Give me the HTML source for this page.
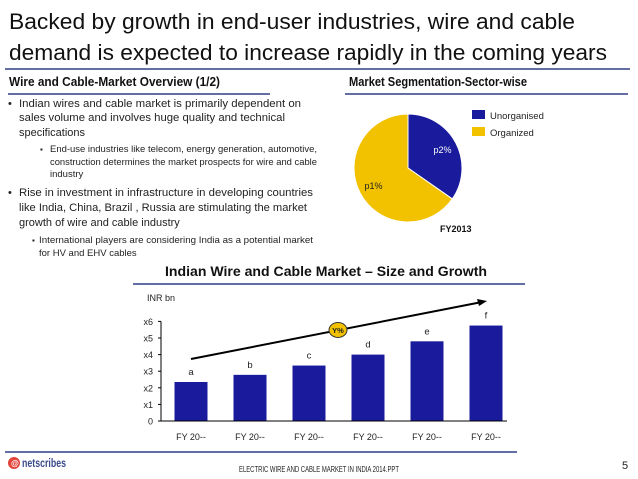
<!DOCTYPE html>
<html><head><meta charset="utf-8"><style>
html,body{margin:0;padding:0;background:#fff;}
svg{display:block;font-family:"Liberation Sans",sans-serif;}
</style></head><body>
<svg width="638" height="479" viewBox="0 0 638 479">
<text x="9" y="29" font-size="22" fill="#111" textLength="566" lengthAdjust="spacingAndGlyphs">Backed by growth in end-user industries, wire and cable</text>
<text x="9" y="60" font-size="22" fill="#111" textLength="598" lengthAdjust="spacingAndGlyphs">demand is expected to increase rapidly in the coming years</text>
<line x1="5" y1="69" x2="630" y2="69" stroke="#2e3f86" stroke-width="1.5"/>
<text x="9" y="86" font-size="13" font-weight="bold" fill="#111" textLength="211" lengthAdjust="spacingAndGlyphs">Wire and Cable-Market Overview (1/2)</text>
<line x1="8" y1="94" x2="270" y2="94" stroke="#2e3f86" stroke-width="1.5"/>
<text x="349" y="86" font-size="13" font-weight="bold" fill="#111" textLength="178" lengthAdjust="spacingAndGlyphs">Market Segmentation-Sector-wise</text>
<line x1="345" y1="94" x2="628" y2="94" stroke="#2e3f86" stroke-width="1.5"/>
<g font-size="11" fill="#222">
<text x="8" y="107">•</text>
<text x="19" y="107" textLength="282" lengthAdjust="spacingAndGlyphs">Indian wires and cable market is primarily dependent on</text>
<text x="19" y="121" textLength="266" lengthAdjust="spacingAndGlyphs">sales volume and involves huge quality and technical</text>
<text x="19" y="136">specifications</text>
<text x="40" y="152" font-size="8">▪</text>
<text x="50" y="152" font-size="9.5" textLength="267" lengthAdjust="spacingAndGlyphs">End-use industries like telecom, energy generation, automotive,</text>
<text x="50" y="165" font-size="9.5" textLength="267" lengthAdjust="spacingAndGlyphs">construction determines the market prospects for wire and cable</text>
<text x="50" y="177" font-size="9.5">industry</text>
<text x="8" y="196">•</text>
<text x="19" y="196" textLength="294" lengthAdjust="spacingAndGlyphs">Rise in investment in infrastructure in developing countries</text>
<text x="19" y="211" textLength="288" lengthAdjust="spacingAndGlyphs">like India, China, Brazil , Russia are stimulating the market</text>
<text x="19" y="226">growth of wire and cable industry</text>
<text x="32" y="243" font-size="8">▪</text>
<text x="39" y="243" font-size="9.5" textLength="274" lengthAdjust="spacingAndGlyphs">International players are considering India as a potential market</text>
<text x="39" y="256" font-size="9.5">for HV and EHV cables</text>
</g>
<g id="pie"></g>
<rect x="472" y="110" width="13" height="9" fill="#1a1a9c"/>
<text x="490" y="119" font-size="9.5" fill="#222">Unorganised</text>
<rect x="472" y="127" width="13" height="9" fill="#f2c200"/>
<text x="490" y="136" font-size="9.5" fill="#222">Organized</text>
<text x="440" y="232" font-size="9" font-weight="bold" fill="#111">FY2013</text>
<text x="165" y="276" font-size="13.5" font-weight="bold" fill="#111" textLength="322" lengthAdjust="spacingAndGlyphs">Indian Wire and Cable Market – Size and Growth</text>
<line x1="133" y1="284" x2="525" y2="284" stroke="#2e3f86" stroke-width="1.5"/>
<text x="147" y="301" font-size="9" fill="#222">INR bn</text>
<g id="bars"></g>
<line x1="5" y1="452" x2="517" y2="452" stroke="#2e3f86" stroke-width="1.5"/>
<g>
<circle cx="14" cy="463" r="6" fill="#e0443a"/>
<text x="11" y="466" font-size="8" fill="#fff" font-weight="bold">@</text>
<text x="22" y="467" font-size="12" font-weight="bold" fill="#3b4a8a" textLength="44" lengthAdjust="spacingAndGlyphs">netscribes</text>
</g>
<text x="319" y="472" font-size="8" fill="#222" text-anchor="middle" textLength="160" lengthAdjust="spacingAndGlyphs">ELECTRIC WIRE AND CABLE MARKET IN INDIA 2014.PPT</text>
<text x="622" y="469" font-size="11" fill="#222">5</text>
</svg>
<script>
const pieLabels = ["Unorganised","Organized"];
const pieValues = [34.7, 65.3];
const pieText = ["p2%","p1%"];
const pieColors = ["#1a1a9c","#f2c200"];

const barCats = ["FY 20--","FY 20--","FY 20--","FY 20--","FY 20--","FY  20--"];
const barValues = [2.35, 2.78, 3.34, 4.0, 4.8, 5.75];
const barLabels = ["a","b","c","d","e","f"];
const yTicks = ["0","x1","x2","x3","x4","x5","x6"];

const NS="http://www.w3.org/2000/svg";
function mk(t,a,p){const e=document.createElementNS(NS,t);for(const k in a)e.setAttribute(k,a[k]);p.appendChild(e);return e;}

// pie
(function(){
  const g=document.getElementById('pie');
  const cx=408,cy=168,r=54;
  const tot=pieValues.reduce((a,b)=>a+b,0);
  let a0=0;
  pieValues.forEach((v,i)=>{
    const a1=a0+v/tot*2*Math.PI;
    const x0=cx+r*Math.sin(a0),y0=cy-r*Math.cos(a0),x1=cx+r*Math.sin(a1),y1=cy-r*Math.cos(a1);
    const large=(a1-a0)>Math.PI?1:0;
    const p=mk('path',{d:`M${cx},${cy}L${x0},${y0}A${r},${r} 0 ${large} 1 ${x1},${y1}Z`,fill:pieColors[i],stroke:'#fff','stroke-width':1},g);
    
    
    const m=(a0+a1)/2, lr=r*0.72;
    const t=mk('text',{x:cx+lr*Math.sin(m),y:cy-lr*Math.cos(m)+3,'font-size':9,fill:i===0?'#fff':'#222','text-anchor':'middle'},g);
    t.textContent=pieText[i];
    
    
    a0=a1;
  });
})();

// bars
(function(){
  const g=document.getElementById('bars');
  const y0=421,unit=16.6,x0=161,step=59,first=191,bw=33;
  const Y=v=>y0-v*unit, X=i=>first+i*step;
  yTicks.forEach((t,i)=>{
    const e=mk('text',{x:153,y:Y(i)+3.5,'font-size':9,fill:'#222','text-anchor':'end'},g);
    e.textContent=t;
    
    
    mk('line',{x1:x0-3,y1:Y(i),x2:x0,y2:Y(i),stroke:'#000','stroke-width':1},g);
  });
  mk('line',{x1:x0,y1:Y(6),x2:x0,y2:y0,stroke:'#000','stroke-width':1},g);
  barValues.forEach((v,i)=>{
    const r=mk('rect',{x:X(i)-bw/2,y:Y(v),width:bw,height:y0-Y(v),fill:'#1a1a9c'},g);
    
    
    const t=mk('text',{x:X(i),y:Y(v)-7,'font-size':9.5,fill:'#222','text-anchor':'middle'},g);
    t.textContent=barLabels[i];
    
    
    const c=mk('text',{x:X(i),y:440,'font-size':9,fill:'#222','text-anchor':'middle'},g);
    c.textContent=barCats[i];
    
    
  });
  mk('line',{x1:x0,y1:y0,x2:507,y2:y0,stroke:'#000','stroke-width':1},g);
  const ax=mk('line',{x1:191,y1:359,x2:482,y2:302,stroke:'#000','stroke-width':2},g);
  
  
  mk('path',{d:'M487,301 L477,299 L479,306 Z',fill:'#000'},g);
  const cc=mk('ellipse',{cx:338,cy:330,rx:9,ry:7.5,fill:'#f2c200',stroke:'#333','stroke-width':1},g);
  
  
  const ct=mk('text',{x:338,y:333,'font-size':7.5,'font-weight':'bold',fill:'#222','text-anchor':'middle'},g);
  ct.textContent='Y%';
})();
</script>
</body></html>
